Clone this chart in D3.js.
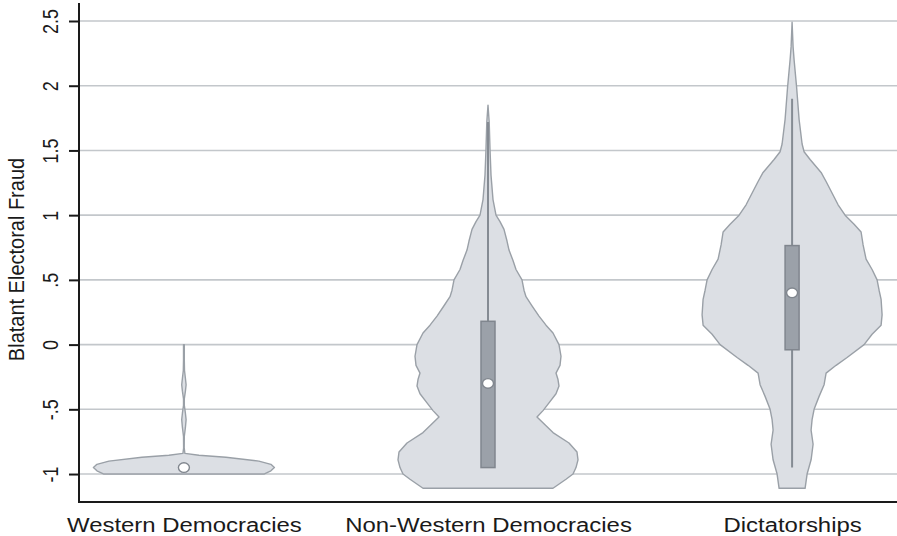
<!DOCTYPE html>
<html>
<head>
<meta charset="utf-8">
<script src="https://cdn.jsdelivr.net/npm/d3@7"></script>
<style>
  html, body { margin: 0; padding: 0; background: #fff; }
  svg { display: block; }
  text { font-family: "Liberation Sans", Arial, Helvetica, sans-serif; fill: #1a1a1a; }
</style>
</head>
<body>
<svg id="chart" width="897" height="536"></svg>
<script>
// ---------------- DATA ----------------
const categories = ["Western Democracies", "Non-Western Democracies", "Dictatorships"];
const yTicks = [-1, -0.5, 0, 0.5, 1, 1.5, 2, 2.5];
const yTickLabels = ["-1", "-.5", "0", ".5", "1", "1.5", "2", "2.5"];
const yTitle = "Blatant Electoral Fraud";

// density profiles: [value, density]
const westernDensity = [
  [0.00, 0.004], [-0.12, 0.004], [-0.20, 0.006], [-0.26, 0.015], [-0.31, 0.022], [-0.36, 0.015],
  [-0.42, 0.004], [-0.47, 0.004], [-0.53, 0.015], [-0.58, 0.022], [-0.64, 0.015], [-0.71, 0.004],
  [-0.80, 0.003], [-0.84, 0.01], [-0.855, 0.15], [-0.87, 0.42], [-0.90, 0.75], [-0.925, 0.87],
  [-0.95, 0.905], [-0.975, 0.87], [-1.00, 0.80]
];
const nonWesternDensity = [
  [1.85, 0.0], [1.72, 0.012], [1.51, 0.02], [1.31, 0.03], [1.12, 0.05], [1.00, 0.08], [0.95, 0.12],
  [0.89, 0.16], [0.80, 0.19], [0.73, 0.21], [0.65, 0.25], [0.58, 0.28], [0.50, 0.34], [0.42, 0.36],
  [0.37, 0.38], [0.30, 0.44], [0.22, 0.51], [0.15, 0.58], [0.09, 0.65], [0.00, 0.71], [-0.09, 0.73],
  [-0.16, 0.72], [-0.22, 0.68], [-0.27, 0.70], [-0.32, 0.71], [-0.38, 0.68], [-0.45, 0.61],
  [-0.51, 0.55], [-0.56, 0.49], [-0.62, 0.57], [-0.68, 0.65], [-0.76, 0.81], [-0.83, 0.89],
  [-0.89, 0.90], [-0.95, 0.88], [-1.00, 0.85], [-1.04, 0.78], [-1.11, 0.65]
];
const dictatorshipDensity = [
  [2.49, 0.0], [2.30, 0.01], [2.20, 0.02], [1.99, 0.045], [1.74, 0.07], [1.55, 0.10], [1.49, 0.12],
  [1.43, 0.18], [1.33, 0.29], [1.26, 0.34], [1.20, 0.38], [1.14, 0.42], [1.08, 0.46], [1.00, 0.53],
  [0.93, 0.62], [0.87, 0.69], [0.77, 0.71], [0.66, 0.74], [0.58, 0.80], [0.50, 0.85], [0.42, 0.87],
  [0.35, 0.89], [0.23, 0.90], [0.15, 0.89], [0.08, 0.80], [0.00, 0.72], [-0.10, 0.55], [-0.16, 0.44],
  [-0.22, 0.34], [-0.31, 0.32], [-0.40, 0.27], [-0.50, 0.22], [-0.58, 0.20], [-0.66, 0.19],
  [-0.77, 0.21], [-0.89, 0.19], [-1.00, 0.15], [-1.11, 0.13]
];

// box stats: [q1, median, q3, lowerWhisker, upperWhisker]
const boxStats = [
  [-0.95, -0.95, -0.95, -0.95, -0.95],
  [-0.95, -0.30, 0.18, -0.95, 1.72],
  [-0.04, 0.40, 0.765, -0.95, 1.90]
];

const densities = [westernDensity, nonWesternDensity, dictatorshipDensity];

// ---------------- LAYOUT ----------------
const plotLeft = 79, plotRight = 897, plotTop = 3, plotBottom = 502;

const svg = d3.select("#chart");

const y = d3.scaleLinear().domain([-1.216, 2.639]).range([plotBottom, plotTop]);
const x = d3.scalePoint().domain(categories).range([plotLeft, plotRight]).padding(0.345);
const wScale = d3.scaleLinear().domain([0, 1]).range([0, 100]);

// gridlines
svg.append("g").selectAll("line").data(yTicks).join("line")
  .attr("x1", plotLeft).attr("x2", plotRight)
  .attr("y1", d => y(d)).attr("y2", d => y(d))
  .attr("stroke", "#c3c7cb").attr("stroke-width", 1.6);

// violins
const area = d3.area()
  .y(d => y(d[0]))
  .curve(d3.curveLinear);

densities.forEach((dens, i) => {
  const cx = x(categories[i]);
  svg.append("path")
    .datum(dens)
    .attr("d", area.x0(d => cx - wScale(d[1])).x1(d => cx + wScale(d[1])))
    .attr("fill", "#dcdfe4")
    .attr("stroke", "#9aa0a7")
    .attr("stroke-width", 1.4)
    .attr("stroke-linejoin", "round");
});

// boxes
boxStats.forEach((b, i) => {
  const cx = x(categories[i]);
  const [q1, med, q3, lo, hi] = b;
  const g = svg.append("g");
  if (hi > lo) {
    g.append("line").attr("x1", cx).attr("x2", cx)
      .attr("y1", y(hi)).attr("y2", y(lo))
      .attr("stroke", "#858b93").attr("stroke-width", 2);
  }
  if (q3 > q1) {
    g.append("rect")
      .attr("x", cx - 7).attr("width", 14)
      .attr("y", y(q3)).attr("height", y(q1) - y(q3))
      .attr("fill", "#9ba1a9").attr("stroke", "#80868e").attr("stroke-width", 1.5);
  }
  g.append("ellipse")
    .attr("cx", cx).attr("cy", y(med))
    .attr("rx", 5.5).attr("ry", 4.8)
    .attr("fill", "#ffffff").attr("stroke", "#80868e").attr("stroke-width", 1.4);
});

// axes
const yAxis = d3.axisLeft(y).tickValues(yTicks).tickFormat((d, i) => yTickLabels[i])
  .tickSize(10).tickPadding(0);
const ya = svg.append("g").attr("transform", `translate(${plotLeft},0)`).call(yAxis);
ya.select(".domain").remove();
ya.selectAll(".tick line").attr("stroke", "#1a1a1a").attr("stroke-width", 2);
ya.selectAll(".tick text")
  .attr("x", null).attr("dy", null)
  .attr("transform", "translate(-21,0) scale(1.22,1) rotate(-90)")
  .attr("text-anchor", "middle")
  .attr("font-size", 18)
  .style("font-family", '"Liberation Sans", Arial, sans-serif')
  .attr("fill", "#1a1a1a");

svg.append("line").attr("x1", plotLeft).attr("x2", plotLeft)
  .attr("y1", plotTop).attr("y2", plotBottom + 1)
  .attr("stroke", "#1a1a1a").attr("stroke-width", 2);

const xAxis = d3.axisBottom(x).tickSize(0).tickPadding(0);
const xa = svg.append("g").attr("transform", `translate(0,${plotBottom})`).call(xAxis);
xa.select(".domain").remove();
xa.selectAll(".tick text")
  .attr("y", null).attr("dy", null)
  .attr("transform", "translate(0,30) scale(1.14,1)")
  .attr("font-size", 21)
  .style("font-family", '"Liberation Sans", Arial, sans-serif')
  .attr("fill", "#1a1a1a");

svg.append("line").attr("x1", plotLeft - 1).attr("x2", plotRight)
  .attr("y1", plotBottom).attr("y2", plotBottom)
  .attr("stroke", "#1a1a1a").attr("stroke-width", 2);

// y title
svg.append("text")
  .attr("transform", `translate(24,${(y(-1) + y(2.5)) / 2 + 12}) scale(1.08,1) rotate(-90)`)
  .attr("text-anchor", "middle")
  .attr("font-size", 20)
  .text(yTitle);
</script>
</body>
</html>
